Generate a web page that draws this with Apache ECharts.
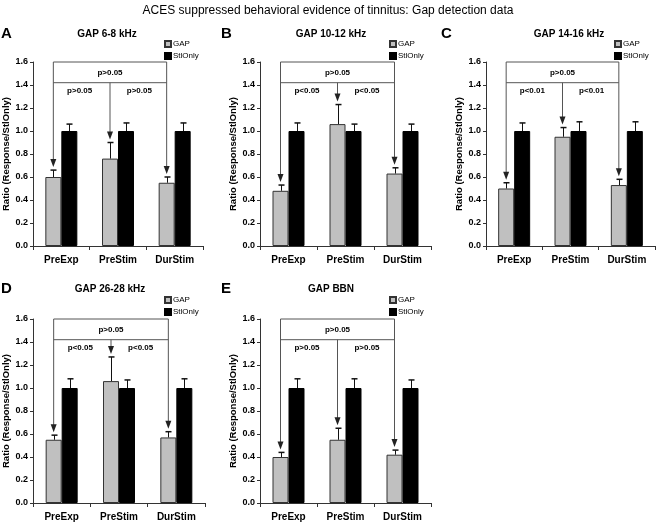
<!DOCTYPE html>
<html>
<head>
<meta charset="utf-8">
<script src="https://cdn.jsdelivr.net/npm/echarts@6/dist/echarts.min.js"></script>
<style>
html,body{margin:0;padding:0;background:#fff;}
#chart{width:656px;height:522px;}
</style>
</head>
<body>
<div id="chart"></div>
<script>
// ---------- DATA ----------
const mainTitle = 'ACES suppressed behavioral evidence of tinnitus: Gap detection data';
const categories = ['PreExp', 'PreStim', 'DurStim'];
const panelLetters = ['A', 'B', 'C', 'D', 'E'];
const panelTitles = ['GAP 6-8 kHz', 'GAP 10-12 kHz', 'GAP 14-16 kHz', 'GAP 26-28 kHz', 'GAP BBN'];
const seriesNames = ['GAP', 'StlOnly'];
const gapMeans = [
  [0.60, 0.76, 0.55],
  [0.48, 1.06, 0.63],
  [0.50, 0.95, 0.53],
  [0.55, 1.06, 0.57],
  [0.40, 0.55, 0.42]
];
const gapErrTop = [
  [0.66, 0.90, 0.60],
  [0.53, 1.23, 0.68],
  [0.55, 1.03, 0.58],
  [0.59, 1.27, 0.62],
  [0.44, 0.65, 0.46]
];
const stlMeans = [
  [1.00, 1.00, 1.00],
  [1.00, 1.00, 1.00],
  [1.00, 1.00, 1.00],
  [1.00, 1.00, 1.00],
  [1.00, 1.00, 1.00]
];
const stlErrTop = [
  [1.06, 1.07, 1.07],
  [1.07, 1.06, 1.06],
  [1.07, 1.08, 1.08],
  [1.08, 1.07, 1.08],
  [1.08, 1.08, 1.07]
];
const pOuter = ['p>0.05', 'p>0.05', 'p>0.05', 'p>0.05', 'p>0.05'];
const pLeft  = ['p>0.05', 'p<0.05', 'p<0.01', 'p<0.05', 'p>0.05'];
const pRight = ['p>0.05', 'p<0.05', 'p<0.01', 'p<0.05', 'p>0.05'];
const yAxisName = 'Ratio (Response/StlOnly)';

// ---------- LAYOUT / STYLE ----------
const Y_MIN = 0, Y_MAX = 1.6, Y_INT = 0.2;
const BRACKET_TOP = 1.6, BRACKET_BAR = 1.42, P_OUTER_Y = 1.51, P_INNER_Y = 1.35;
const BAR_W = 16;
const FONT = 'Liberation Sans, Arial, sans-serif';
const grids = [
  {left: 33,  top: 62,  width: 170, height: 184},
  {left: 260, top: 62,  width: 171, height: 184},
  {left: 486, top: 62,  width: 169, height: 184},
  {left: 33,  top: 319, width: 172, height: 184},
  {left: 260, top: 319, width: 171, height: 184}
];
const legendPos = [
  {left: 164, top: 40}, {left: 389, top: 40}, {left: 614, top: 40},
  {left: 164, top: 296}, {left: 389, top: 296}
];
const titlePos = [
  {x: 107, y: 29}, {x: 331, y: 29}, {x: 569, y: 29}, {x: 110, y: 284}, {x: 331, y: 284}
];
const letterPos = [
  {x: 1, y: 26}, {x: 221, y: 26}, {x: 441, y: 26}, {x: 1, y: 281}, {x: 221, y: 281}
];

const chart = echarts.init(document.getElementById('chart'), null, {renderer: 'canvas'});

function errRender(offset) {
  return function (params, api) {
    const c = api.value(0), m = api.value(1), t = api.value(2);
    const p0 = api.coord([c, m]);
    const p1 = api.coord([c, t]);
    const x = Math.round(p0[0] + offset) + 0.5;
    return {
      type: 'group',
      children: [
        {type: 'line', shape: {x1: x, y1: p0[1], x2: x, y2: p1[1]}, style: {stroke: '#111', lineWidth: 1}},
        {type: 'line', shape: {x1: x - 3, y1: p1[1], x2: x + 3, y2: p1[1]}, style: {stroke: '#111', lineWidth: 1.5}}
      ]
    };
  };
}

function bracketRender(pi) {
  return function (params, api) {
    const lineColor = '#555';
    const off = -BAR_W / 2;
    const xs = [0, 1, 2].map(i => api.coord([i, 0])[0] + off);
    const yTop = api.coord([0, BRACKET_TOP])[1];
    const yBar = api.coord([0, BRACKET_BAR])[1];
    const tips = [0, 1, 2].map(i => api.coord([i, gapErrTop[pi][i]])[1] - 3);
    const children = [];
    const ln = (x1, y1, x2, y2) => children.push({
      type: 'line', shape: {x1: x1, y1: y1, x2: x2, y2: y2}, style: {stroke: lineColor, lineWidth: 1}
    });
    const head = (x, y) => children.push({
      type: 'polygon', shape: {points: [[x - 3, y - 8], [x + 3, y - 8], [x, y]]}, style: {fill: '#222'}
    });
    ln(xs[0], yTop, xs[2], yTop);
    ln(xs[0], yBar, xs[2], yBar);
    ln(xs[0], yTop, xs[0], tips[0] - 6);
    ln(xs[2], yTop, xs[2], tips[2] - 6);
    ln(xs[1], yBar, xs[1], tips[1] - 6);
    head(xs[0], tips[0]);
    head(xs[1], tips[1]);
    head(xs[2], tips[2]);
    const txt = (s, x, y) => children.push({
      type: 'text', x: x, y: y,
      style: {text: s, fill: '#000', font: 'bold 8px ' + FONT, align: 'center', verticalAlign: 'middle'}
    });
    txt(pOuter[pi], xs[1], api.coord([0, P_OUTER_Y])[1]);
    txt(pLeft[pi], (xs[0] + xs[1]) / 2 - 2, api.coord([0, P_INNER_Y])[1]);
    txt(pRight[pi], (xs[1] + xs[2]) / 2 + 1, api.coord([0, P_INNER_Y])[1]);
    return {type: 'group', children: children};
  };
}

const option = {
  backgroundColor: '#fff',
  animation: false,
  textStyle: {fontFamily: FONT},
  title: [{
    text: mainTitle, left: 'center', top: 0,
    textStyle: {fontSize: 12, fontWeight: 'normal', color: '#000', fontFamily: FONT}
  }],
  legend: [],
  grid: [],
  xAxis: [],
  yAxis: [],
  series: [],
  graphic: []
};

grids.forEach((g, pi) => {
  option.grid.push(Object.assign({containLabel: false}, g));
  option.xAxis.push({
    type: 'category', gridIndex: pi, data: categories,
    axisLine: {lineStyle: {color: '#333', width: 1}},
    axisTick: {show: true, alignWithLabel: false, length: 4, lineStyle: {color: '#333'}},
    axisLabel: {color: '#000', fontWeight: 'bold', fontSize: 10, margin: 9, fontFamily: FONT},
    splitLine: {show: false}
  });
  option.yAxis.push({
    type: 'value', gridIndex: pi, min: Y_MIN, max: Y_MAX, interval: Y_INT,
    name: yAxisName, nameLocation: 'middle', nameGap: 21,
    nameTextStyle: {color: '#000', fontWeight: 'bold', fontSize: 9.5, fontFamily: FONT},
    axisLine: {show: true, lineStyle: {color: '#333', width: 1}},
    axisTick: {show: true, length: 3, lineStyle: {color: '#333'}},
    axisLabel: {color: '#000', fontWeight: 'bold', fontSize: 9, margin: 5, fontFamily: FONT,
      formatter: v => v.toFixed(1)},
    splitLine: {show: false}
  });
  option.legend.push({
    data: seriesNames, orient: 'vertical', left: legendPos[pi].left, top: legendPos[pi].top,
    icon: 'rect', itemWidth: 6, itemHeight: 6, itemGap: 4, padding: 0,
    selectedMode: false,
    textStyle: {fontSize: 8, color: '#000', fontFamily: FONT, padding: [0, 0, 0, -3]}
  });
  option.series.push({
    name: seriesNames[0], type: 'bar', xAxisIndex: pi, yAxisIndex: pi,
    data: gapMeans[pi], barWidth: BAR_W, barGap: '0%',
    itemStyle: {color: '#c0c0c0', borderColor: '#333', borderWidth: 1}
  });
  option.series.push({
    name: seriesNames[1], type: 'bar', xAxisIndex: pi, yAxisIndex: pi,
    data: stlMeans[pi], barWidth: BAR_W, barGap: '0%',
    itemStyle: {color: '#000', borderColor: '#000', borderWidth: 1}
  });
  option.series.push({
    type: 'custom', xAxisIndex: pi, yAxisIndex: pi, z: 5, silent: true,
    data: categories.map((c, i) => [i, gapMeans[pi][i], gapErrTop[pi][i]]),
    renderItem: errRender(-BAR_W / 2)
  });
  option.series.push({
    type: 'custom', xAxisIndex: pi, yAxisIndex: pi, z: 5, silent: true,
    data: categories.map((c, i) => [i, stlMeans[pi][i], stlErrTop[pi][i]]),
    renderItem: errRender(BAR_W / 2)
  });
  option.series.push({
    type: 'custom', xAxisIndex: pi, yAxisIndex: pi, z: 6, silent: true, clip: false,
    data: [[0, 0]],
    renderItem: bracketRender(pi)
  });
  option.graphic.push({
    type: 'text', left: letterPos[pi].x, top: letterPos[pi].y,
    style: {text: panelLetters[pi], font: 'bold 15px ' + FONT, fill: '#000'}
  });
  option.graphic.push({
    type: 'text', x: titlePos[pi].x, y: titlePos[pi].y,
    style: {text: panelTitles[pi], font: 'bold 10px ' + FONT, fill: '#000', align: 'center', verticalAlign: 'top'}
  });
});

chart.setOption(option);
</script>
</body>
</html>
